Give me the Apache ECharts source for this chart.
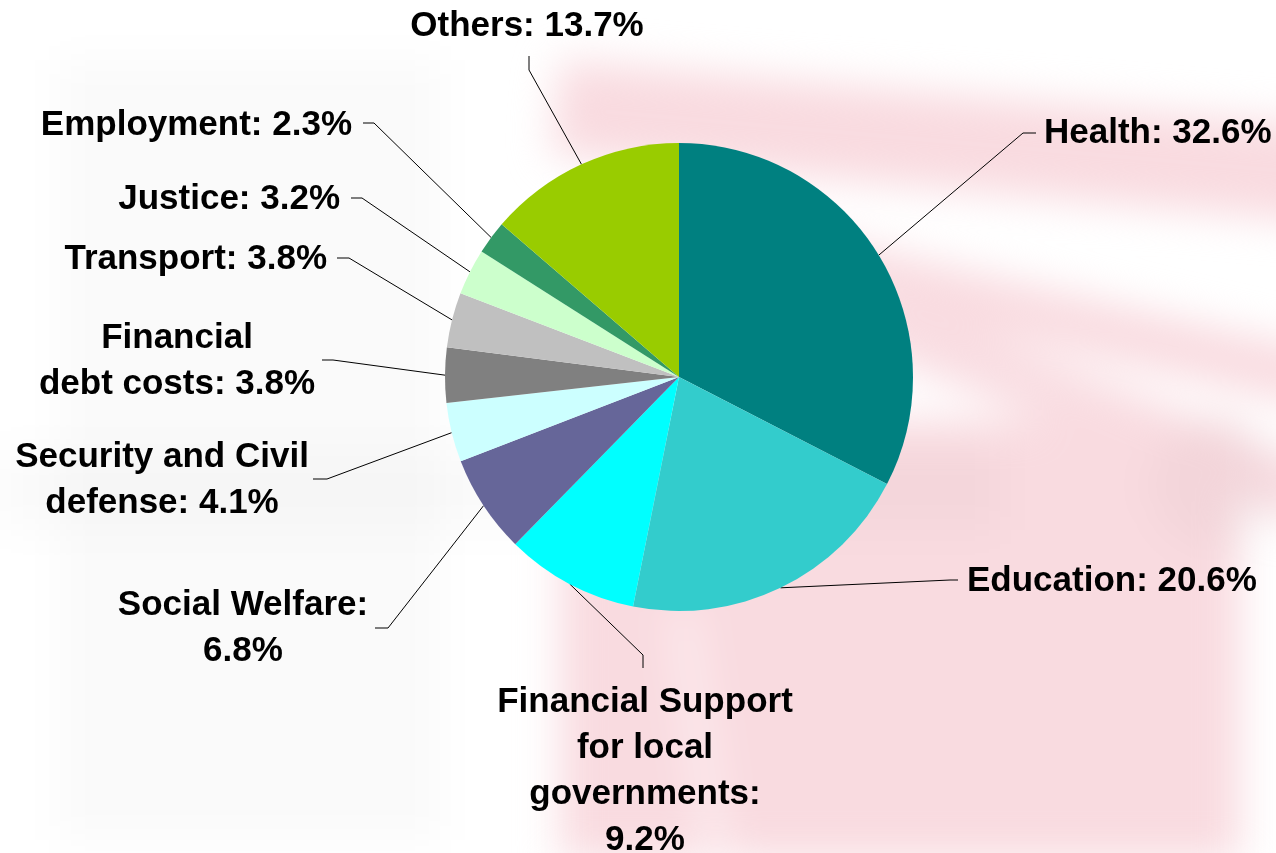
<!DOCTYPE html>
<html>
<head>
<meta charset="utf-8">
<title>Expenditure by function</title>
<script src="https://cdn.jsdelivr.net/npm/echarts/dist/echarts.min.js"></script>
<style>
  html, body { margin: 0; padding: 0; background: #ffffff; }
  #wrap { position: relative; width: 1276px; height: 853px; overflow: hidden; background: #ffffff; }
  #haze { position: absolute; left: 0; top: 0; width: 1276px; height: 853px; filter: blur(20px); }
  #haze div { position: absolute; }
  #chart { position: absolute; left: 0; top: 0; width: 1276px; height: 853px; }
</style>
</head>
<body>
<div id="wrap">
  <!-- faded backdrop emblem -->
  <div id="haze">
    <div style="left:560px;top:60px;width:780px;height:95px;background:#f9dbe0;transform:rotate(5deg);transform-origin:0 0;"></div>
    <div style="left:620px;top:190px;width:720px;height:55px;background:#f9dbe0;transform:rotate(13deg);transform-origin:0 0;"></div>
    <div style="left:880px;top:290px;width:480px;height:60px;background:#f9dde2;transform:rotate(22deg);transform-origin:0 0;"></div>
    <div style="left:560px;top:420px;width:680px;height:440px;background:#f9dbe0;"></div>
    <div style="left:690px;top:610px;width:20px;height:260px;background:#fdf1f3;transform:rotate(-8deg);"></div>
    <div style="left:60px;top:60px;width:380px;height:780px;background:rgba(0,0,0,0.018);"></div>
    <div style="left:0px;top:450px;width:1000px;height:80px;background:rgba(0,0,0,0.02);"></div>
    <div style="left:1150px;top:420px;width:130px;height:130px;background:rgba(0,0,0,0.025);border-radius:50%;"></div>
  </div>
  <div id="chart"></div>
</div>
<script>
// Shares of expenditure by function (%)
const categories = [
  'Health', 'Education', 'Financial Support for local governments',
  'Social Welfare', 'Security and Civil defense', 'Financial debt costs',
  'Transport', 'Justice', 'Employment', 'Others'
];
const shares = [32.6, 20.6, 9.2, 6.8, 4.1, 3.8, 3.8, 3.2, 2.3, 13.7];

// How each label is broken over lines ("|" marks a line break)
const labelNames = [
  'Health', 'Education', 'Financial Support|for local|governments',
  'Social Welfare', 'Security and Civil|defense', 'Financial|debt costs',
  'Transport', 'Justice', 'Employment', 'Others'
];
const valueOnNewLine = [false, false, true, true, false, false, false, false, false, false];

const sliceColors = [
  '#008080', '#33CCCC', '#00FFFF', '#666699', '#CCFFFF',
  '#808080', '#C0C0C0', '#CCFFCC', '#339966', '#99CC00'
];

// Label placement: text anchor, alignment, and the elbow/end of each leader line
const placement = [
  { x: 1044, y: 133, align: 'left',   elbow: [1023, 133], end: [1036, 133] },
  { x: 967,  y: 581, align: 'left',   elbow: [950, 580],  end: [958, 580] },
  { x: 645,  y: 771, align: 'center', elbow: [643, 655],  end: [643, 668] },
  { x: 243,  y: 628, align: 'center', elbow: [388, 628],  end: [375, 628] },
  { x: 162,  y: 480, align: 'center', elbow: [327, 479],  end: [313, 479] },
  { x: 177,  y: 361, align: 'center', elbow: [333, 360],  end: [322, 360] },
  { x: 327,  y: 259, align: 'right',  elbow: [349, 258],  end: [337, 258] },
  { x: 340,  y: 199, align: 'right',  elbow: [362, 198],  end: [351, 198] },
  { x: 352,  y: 125, align: 'right',  elbow: [374, 123],  end: [363, 123] },
  { x: 527,  y: 26,  align: 'center', elbow: [529, 70],   end: [529, 56] }
];

const CENTER = [679, 377];
const RADIUS = 234;

// Point on the rim at the middle of a slice (fallback when the library gives none)
function rimPoint(idx) {
  const total = shares.reduce((a, b) => a + b, 0);
  let before = 0;
  for (let i = 0; i < idx; i++) before += shares[i];
  const mid = (before + shares[idx] / 2) / total * Math.PI * 2;
  return [CENTER[0] + RADIUS * Math.sin(mid), CENTER[1] - RADIUS * Math.cos(mid)];
}

const chart = echarts.init(document.getElementById('chart'), null, { renderer: 'canvas' });

chart.setOption({
  backgroundColor: 'transparent',
  animation: false,
  series: [{
    type: 'pie',
    center: CENTER,
    radius: RADIUS,
    startAngle: 90,
    clockwise: true,
    avoidLabelOverlap: false,
    minShowLabelAngle: 0,
    silent: true,
    itemStyle: { borderWidth: 0 },
    emphasis: { disabled: true },
    data: categories.map((name, i) => ({
      name: name,
      value: shares[i],
      itemStyle: { color: sliceColors[i] }
    })),
    label: {
      show: true,
      position: 'outside',
      color: '#000000',
      fontFamily: '"Liberation Sans", Arial, sans-serif',
      fontWeight: 'bold',
      fontSize: 35,
      lineHeight: 46,
      formatter: function (p) {
        const i = p.dataIndex;
        const nameText = labelNames[i].split('|').join('\n');
        return nameText + ':' + (valueOnNewLine[i] ? '\n' : ' ') + shares[i].toFixed(1) + '%';
      }
    },
    labelLine: {
      show: true,
      length: 20,
      length2: 10,
      smooth: false,
      lineStyle: { color: '#000000', width: 1 }
    },
    labelLayout: function (p) {
      const L = placement[p.dataIndex];
      const start = (p.labelLinePoints && p.labelLinePoints[0]) ? p.labelLinePoints[0] : rimPoint(p.dataIndex);
      return {
        x: L.x,
        y: L.y,
        align: L.align,
        verticalAlign: 'middle',
        labelLinePoints: [start, L.elbow, L.end]
      };
    }
  }]
});
</script>
</body>
</html>
